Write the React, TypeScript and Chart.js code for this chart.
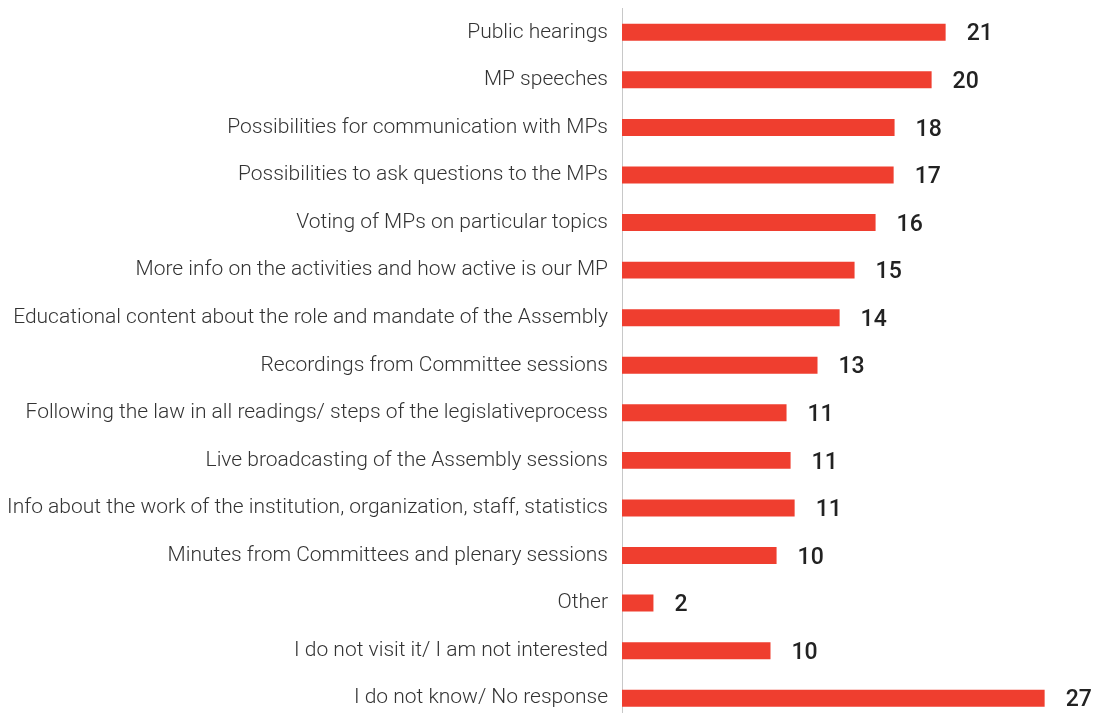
import React, { useEffect, useRef } from "react";
import { Chart, registerables } from "chart.js";

Chart.register(...registerables);

const categories: string[] = [
  "Public hearings",
  "MP speeches",
  "Possibilities for communication with MPs",
  "Possibilities to ask questions to the MPs",
  "Voting of MPs on particular topics",
  "More info on the activities and how active is our MP",
  "Educational content about the role and mandate of the Assembly",
  "Recordings from Committee sessions",
  "Following the law in all readings/ steps of the legislativeprocess",
  "Live broadcasting of the Assembly sessions",
  "Info about the work of the institution, organization, staff, statistics",
  "Minutes from Committees and plenary sessions",
  "Other",
  "I do not visit it/ I am not interested",
  "I do not know/ No response",
];

const values: number[] = [
  20.79, 19.89, 17.51, 17.45, 16.29, 14.94, 13.98, 12.56, 10.57, 10.83, 11.09,
  9.93, 2.02, 9.54, 27.15,
];

const valueLabels: string[] = [
  "21", "20", "18", "17", "16", "15", "14", "13", "11", "11", "11", "10", "2",
  "10", "27",
];

const BAR_COLOR = "#EF3E2F";

const valueLabelPlugin = {
  id: "valueLabels",
  afterDatasetsDraw(chart: any) {
    const ctx = chart.ctx;
    const meta = chart.getDatasetMeta(0);
    ctx.save();
    const size = 23;
    ctx.font = `500 ${size}px Roboto, "Noto Sans", sans-serif`;
    ctx.fillStyle = "#222222";
    ctx.textAlign = "left";
    ctx.textBaseline = "alphabetic";
    meta.data.forEach((bar: any, i: number) => {
      ctx.fillText(valueLabels[i], bar.x + 21, bar.y + (size * 0.711) / 2);
    });
    ctx.restore();
  },
};

export default function App() {
  const canvasRef = useRef<HTMLCanvasElement | null>(null);

  useEffect(() => {
    if (!canvasRef.current) return;
    const chart = new Chart(canvasRef.current, {
      type: "bar",
      data: {
        labels: categories,
        datasets: [
          {
            data: values,
            backgroundColor: BAR_COLOR,
            borderWidth: 0,
            categoryPercentage: 1,
            barPercentage: 0.357,
          },
        ],
      },
      options: {
        indexAxis: "y",
        animation: false,
        responsive: false,
        maintainAspectRatio: false,
        layout: { padding: { top: 8.5, bottom: 8, left: 0, right: 6 } },
        plugins: {
          legend: { display: false },
          tooltip: { enabled: false },
        },
        scales: {
          x: {
            display: false,
            min: 0,
            max: 30,
          },
          y: {
            grid: { display: false, drawTicks: false },
            border: { display: true, color: "#c8c8c8", width: 1 },
            ticks: {
              padding: 14,
              color: "#333333",
              font: { family: "Roboto", size: 21, weight: "300" as any },
            },
            afterFit: (scale: any) => {
              scale.width = 622;
              scale.paddingTop = 0;
              scale.paddingBottom = 0;
            },
          },
        },
      },
      plugins: [valueLabelPlugin],
    });
    return () => chart.destroy();
  }, []);

  return (
    <div
      style={{
        position: "fixed",
        top: 0,
        left: 0,
        width: 1095,
        height: 713,
        overflow: "hidden",
        background: "#ffffff",
      }}
    >
      <canvas ref={canvasRef} width={1095} height={730} style={{ display: "block" }} />
    </div>
  );
}
